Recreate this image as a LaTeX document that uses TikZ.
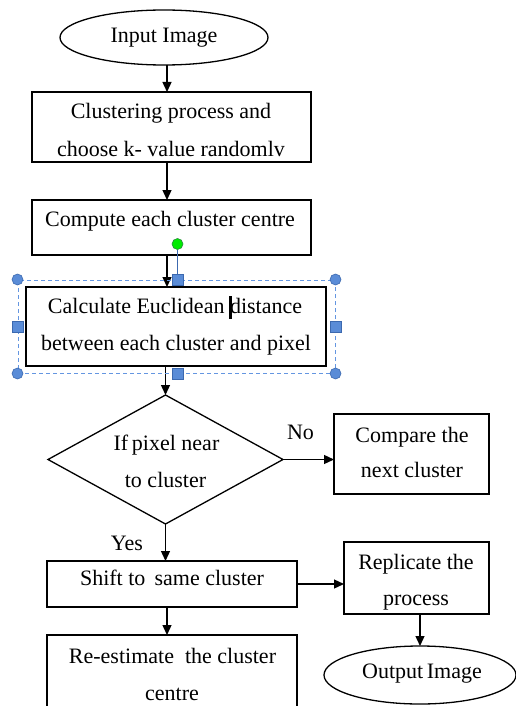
\documentclass[tikz,border=0pt]{standalone}
\usepackage{fontspec}
\setmainfont{Liberation Serif}
\usetikzlibrary{arrows.meta,shapes.geometric}
\definecolor{seldash}{RGB}{100,150,225}
\definecolor{handlefill}{RGB}{90,140,215}
\definecolor{handleedge}{RGB}{60,105,175}
\definecolor{rotgreen}{RGB}{0,235,0}
\definecolor{rotedge}{RGB}{40,140,60}
\begin{document}
\begin{tikzpicture}[x=1pt,y=-1pt,
  box/.style={draw=black,line width=1.4pt,rectangle,inner sep=0pt,outer sep=0pt},
  oval/.style={draw=black,line width=1.3pt,ellipse,inner sep=0pt,outer sep=0pt},
  decision/.style={draw=black,line width=1.3pt,diamond,inner sep=0pt,outer sep=0pt},
  txt/.style={anchor=base,inner sep=0pt,font=\fontsize{22}{26}\selectfont},
  arr/.style={line width=1.3pt,-{Triangle[length=10pt,width=9pt]}},
  selframe/.style={draw=seldash,dash pattern=on 4pt off 3pt,line width=1pt,rectangle,inner sep=0pt},
  hcirc/.style={circle,fill=handlefill,draw=handleedge,line width=0.6pt,minimum size=11pt,inner sep=0pt},
  hsq/.style={rectangle,fill=handlefill,draw=handleedge,line width=0.6pt,minimum size=11pt,inner sep=0pt},
  rotdot/.style={circle,fill=rotgreen,draw=rotedge,line width=0.6pt,minimum size=11pt,inner sep=0pt},
  rotline/.style={draw=handleedge,line width=1pt}]
\useasboundingbox (0,0) rectangle (516,706);
\clip (0,0) rectangle (516,706);
\fill[white] (0,0) rectangle (516,706);

% shapes
\node[oval,minimum width=208pt,minimum height=55pt] (in) at (164,37.5) {};
\node[box,minimum width=279pt,minimum height=70pt] (b1) at (171.5,127) {};
\node[box,minimum width=279pt,minimum height=55pt] (b2) at (171.5,227.5) {};
\node[box,minimum width=300pt,minimum height=79pt] (b3) at (176,326.5) {};
\node[decision,minimum width=235pt,minimum height=129pt] (dia) at (165.5,459.5) {};
\node[box,minimum width=155pt,minimum height=80pt] (b4) at (411.5,454) {};
\node[box,minimum width=250pt,minimum height=46pt] (b5) at (172,584) {};
\node[box,minimum width=145pt,minimum height=72pt] (b6) at (416.5,578) {};
\node[oval,minimum width=192pt,minimum height=58pt] (out) at (420,675) {};
\node[box,minimum width=250pt,minimum height=100pt] (b7) at (172,685) {};

% texts
\node[txt] (tin) at (164,43) {Input Image};
\node[txt] (t1a) at (171,119) {Clustering process and};
\node[txt] (t1b) at (171,156) {choose k- value randomlv};
\node[txt] (t2) at (170,226) {Compute each cluster centre};
\node[txt] (t3a) at (175,313) {Calculate Euclidean distance};
\node[txt] (t3b) at (176,350) {between each cluster and pixel};
\node[txt] (tda) at (166.5,450) {If\,pixel near};
\node[txt] (tdb) at (165.5,487) {to cluster};
\node[txt] (t4a) at (412,442) {Compare the};
\node[txt] (t4b) at (412,477) {next cluster};
\node[txt] (t5) at (172,585) {Shift to\, same cluster};
\node[txt] (t6a) at (416,569) {Replicate the};
\node[txt] (t6b) at (416,605) {process};
\node[txt] (tout) at (422,678) {Output\,Image};
\node[txt] (t7a) at (172.5,663) {Re-estimate\ \ the cluster};
\node[txt] (t7b) at (172,700) {centre};
\node[txt] (no) at (300.5,439) {No};
\node[txt] (yes) at (127,550) {Yes};

% connectors
\coordinate (sp) at (167,0);
\draw[arr] (in.south -| sp) -- (b1.north -| sp);
\draw[arr] (b1.south -| sp) -- (b2.north -| sp);
\draw[arr] (b2.south -| sp) -- (b3.north -| sp);
\draw[arr] (b3.south -| dia.north) -- (dia.north);
\draw[arr] (dia.east) -- (dia.east -| b4.west);
\draw[arr] (dia.south) -- (dia.south |- b5.north);
\draw[arr] (b5.east) -- (b5.east -| b6.west);
\draw[arr] (b5.south -| sp) -- (b7.north -| sp);
\draw[arr] (b6.south -| out.north) -- (out.north);

% selection overlay
\node[selframe,minimum width=317pt,minimum height=93pt] (sel) at (176.5,326.5) {};
\node[rotdot] (rot) at (177.5,244) {};
\coordinate (topmid) at (177.5,280);
\draw[rotline] (rot) -- (topmid);
\node[hcirc] (hnw) at (sel.north west) {};
\node[hcirc] (hne) at (sel.north east) {};
\node[hcirc] (hsw) at (sel.south west) {};
\node[hcirc] (hse) at (sel.south east) {};
\node[hsq] (hn) at (topmid) {};
\node[hsq] (hs) at (sel.south -| topmid) {};
\node[hsq] (hw) at (sel.west) {};
\node[hsq] (he) at (sel.east) {};
% text cursor
\node[fill=black,minimum width=2.6pt,minimum height=23pt,inner sep=0pt] (cur) at (230.5,307) {};
\end{tikzpicture}
\end{document}
